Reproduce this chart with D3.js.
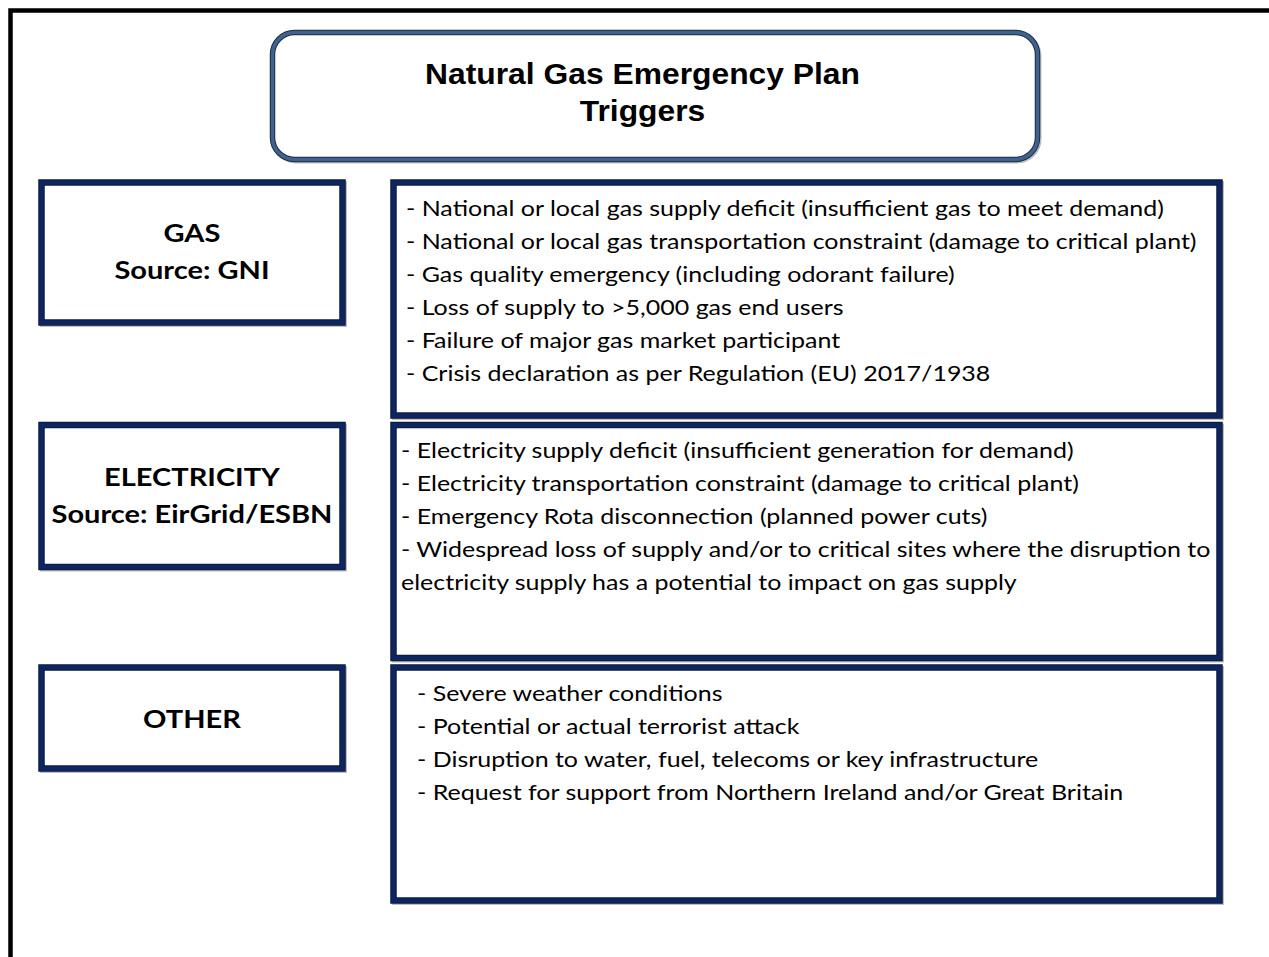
<!DOCTYPE html>
<html>
<head>
<meta charset="utf-8">
<script src="https://cdn.jsdelivr.net/npm/d3@7"></script>
<style>
  html, body { margin: 0; padding: 0; background: #ffffff; }
  svg { display: block; }
</style>
</head>
<body>
<svg id="chart" width="1269" height="957"></svg>
<script>
// ---------- data ----------
const titleLines = ["Natural Gas Emergency Plan", "Triggers"];
const categories = ["GAS", "ELECTRICITY", "OTHER"];
const sourceLabels = ["Source: GNI", "Source: EirGrid/ESBN", ""];
const gasTriggers = [
  "- National or local gas supply deficit (insufficient gas to meet demand)",
  "- National or local gas transportation constraint (damage to critical plant)",
  "- Gas quality emergency (including odorant failure)",
  "- Loss of supply to >5,000 gas end users",
  "- Failure of major gas market participant",
  "- Crisis declaration as per Regulation (EU) 2017/1938"
];
const electricityTriggers = [
  "- Electricity supply deficit (insufficient generation for demand)",
  "- Electricity transportation constraint (damage to critical plant)",
  "- Emergency Rota disconnection (planned power cuts)",
  "- Widespread loss of supply and/or to critical sites where the disruption to",
  "electricity supply has a potential to impact on gas supply"
];
const otherTriggers = [
  "- Severe weather conditions",
  "- Potential or actual terrorist attack",
  "- Disruption to water, fuel, telecoms or key infrastructure",
  "- Request for support from Northern Ireland and/or Great Britain"
];
const triggerLists = [gasTriggers, electricityTriggers, otherTriggers];

// ---------- layout ----------
const svg = d3.select("#chart");
const W = 1269, H = 957;
const navy = "#0b2663", navyEdge = "#101a33";
const bodyFont = "Lato, 'Open Sans', sans-serif";
const rowStep = 242.5;
const y = d3.scaleBand().domain(categories).range([180, 180 + rowStep * categories.length]);
const leftBox = { x: 41.5, w: 301 };
const leftHeights = { GAS: 140, ELECTRICITY: 142, OTHER: 101 };
const rightBox = { x: 393.5, w: 826, h: 233 };
const textX = { GAS: 406, ELECTRICITY: 401, OTHER: 417 };
const lineY = d3.scaleLinear().domain([0, 1]).range([36, 69]); // baseline offset per line

// outer frame
svg.append("rect")
  .attr("x", 10.5).attr("y", 10.5)
  .attr("width", W + 20).attr("height", H + 20)
  .attr("fill", "none").attr("stroke", "#000").attr("stroke-width", 4.5);

function framedRect(g, x, yy, w, h, color, edge, sw, rx) {
  // soft shadow
  g.append("rect").attr("x", x + 1.5).attr("y", yy + 1.5).attr("width", w).attr("height", h)
    .attr("rx", rx || 0).attr("fill", "none").attr("stroke", "#bdbdbd").attr("stroke-width", sw + 1);
  g.append("rect").attr("x", x).attr("y", yy).attr("width", w).attr("height", h)
    .attr("rx", rx || 0).attr("fill", "#fff").attr("stroke", edge).attr("stroke-width", sw + 1.5);
  g.append("rect").attr("x", x).attr("y", yy).attr("width", w).attr("height", h)
    .attr("rx", rx || 0).attr("fill", "none").attr("stroke", color).attr("stroke-width", sw - 0.5);
}

// title box
const tg = svg.append("g");
framedRect(tg, 272.5, 32.5, 765, 127, "#3f6290", "#1e2d45", 4, 22);
const titleG = tg.append("g");
titleG.selectAll("text").data(titleLines).join("text")
  .attr("x", 0).attr("y", (d, i) => 84 + i * 37)
  .attr("text-anchor", "middle")
  .attr("font-family", "'Liberation Sans', Arial, sans-serif")
  .attr("font-weight", "bold").attr("font-size", 29)
  .attr("fill", "#000").text(d => d);

function fitX(g, targetWidth, cx, anchorLeft) {
  let maxW = 0;
  g.selectAll("text").each(function () { maxW = Math.max(maxW, this.getComputedTextLength()); });
  const s = targetWidth / maxW;
  g.attr("transform", `translate(${cx},0) scale(${s},1)`);
}
fitX(titleG, 435, 642.5);

// rows
categories.forEach((cat, ci) => {
  const top = y(cat);
  // left label box
  const lg = svg.append("g");
  const lh = leftHeights[cat];
  framedRect(lg, leftBox.x, top + 2.5, leftBox.w, lh, navy, navyEdge, 5, 0);
  const labels = sourceLabels[ci] ? [cat, sourceLabels[ci]] : [cat];
  const cy = top + 2.5 + lh / 2;
  const lt = lg.append("g");
  lt.selectAll("text").data(labels).join("text")
    .attr("x", 0)
    .attr("y", (d, i) => cy + 8.5 + (i - (labels.length - 1) / 2) * 37 + (labels.length === 1 ? 1.5 : 0))
    .attr("text-anchor", "middle")
    .attr("font-family", bodyFont).attr("font-weight", "bold").attr("font-size", 25)
    .attr("fill", "#000").text(d => d);
  // scale relative to reference width of "Source: EirGrid/ESBN" (281px)
  if (ci === 0) {
    const probe = svg.append("text").attr("font-family", bodyFont).attr("font-weight", "bold")
      .attr("font-size", 25).text(sourceLabels[1]);
    window._labelScale = 281 / probe.node().getComputedTextLength();
    probe.remove();
  }
  lt.attr("transform", `translate(192,0) scale(${window._labelScale},1)`);

  // right trigger box
  const rg = svg.append("g");
  framedRect(rg, rightBox.x, top + 2.5, rightBox.w, rightBox.h, navy, navyEdge, 5, 0);
  const rt = rg.append("g");
  rt.selectAll("text").data(triggerLists[ci]).join("text")
    .attr("x", 0)
    .attr("y", (d, i) => top + lineY(i))
    .attr("font-family", bodyFont).attr("font-size", 22)
    .attr("fill", "#000").text(d => d);
  if (ci === 0) {
    const probe = svg.append("text").attr("font-family", bodyFont).attr("font-size", 22).text(gasTriggers[1]);
    window._bodyScale = 791 / probe.node().getComputedTextLength();
    probe.remove();
  }
  rt.attr("transform", `translate(${textX[cat]},0) scale(${window._bodyScale},1)`);
});
</script>
</body>
</html>
